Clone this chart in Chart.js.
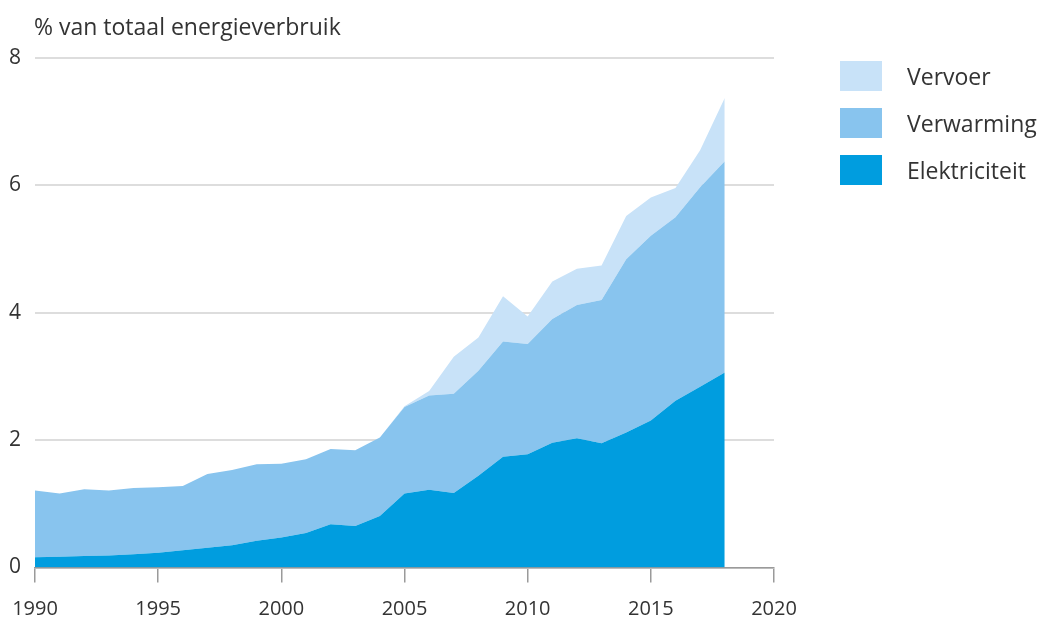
<!DOCTYPE html>
<html><head><meta charset="utf-8">
<script src="https://cdn.jsdelivr.net/npm/chart.js@4"></script>
<style>
  html,body{margin:0;padding:0;background:#fff;}
  #wrap{position:relative;width:1043px;height:620px;font-family:"Open Sans",sans-serif;color:#333;}
  #c{position:absolute;left:0;top:0;}
  #title{position:absolute;left:34px;top:10px;font-size:23px;line-height:32px;white-space:nowrap;}
  .lg{position:absolute;left:840px;height:30px;display:flex;align-items:center;font-size:23px;white-space:nowrap;}
  .lg span.b{display:inline-block;width:42px;height:30px;margin-right:25px;}
</style>
</head>
<body>
<div id="wrap">
  <canvas id="c" width="1043" height="620"></canvas>
  <div id="title">% van totaal energieverbruik</div>
  <div id="legend"></div>
</div>
<script>
const years = [1990,1991,1992,1993,1994,1995,1996,1997,1998,1999,2000,2001,2002,2003,2004,2005,2006,2007,2008,2009,2010,2011,2012,2013,2014,2015,2016,2017,2018];
const elektriciteit = [0.16,0.17,0.18,0.19,0.21,0.23,0.27,0.31,0.35,0.42,0.47,0.54,0.68,0.65,0.81,1.16,1.22,1.17,1.44,1.74,1.78,1.96,2.03,1.95,2.12,2.31,2.62,2.84,3.06];
const verwarming = [1.05,0.99,1.05,1.02,1.04,1.03,1.01,1.16,1.18,1.20,1.16,1.16,1.18,1.19,1.23,1.36,1.48,1.56,1.65,1.81,1.73,1.94,2.09,2.25,2.72,2.90,2.88,3.13,3.32];
const vervoer = [0,0,0,0,0,0,0,0,0,0,0,0,0,0,0,0.01,0.07,0.58,0.52,0.71,0.43,0.59,0.57,0.54,0.68,0.60,0.46,0.58,0.99];
const xTickLabels = ['1990','1995','2000','2005','2010','2015','2020'];
const yTickLabels = ['0','2','4','6','8'];

const seriesNames = ['Elektriciteit','Verwarming','Vervoer'];
const seriesColors = ['#009ddf','#88c4ee','#c8e2f8'];
const seriesValues = [elektriciteit, verwarming, vervoer];

// HTML legend (top-down: Vervoer, Verwarming, Elektriciteit)
const legendTops = [61,108,155];
const lg = document.getElementById('legend');
[2,1,0].forEach((k,i)=>{
  const d=document.createElement('div');d.className='lg';d.style.top=legendTops[i]+'px';
  const b=document.createElement('span');b.className='b';b.style.background=seriesColors[k];
  d.appendChild(b);d.appendChild(document.createTextNode(seriesNames[k]));lg.appendChild(d);
});

const datasets = seriesValues.map((vals,k)=>({
  label: seriesNames[k],
  data: years.map((yr,i)=>({x:yr,y:vals[i]})),
  backgroundColor: seriesColors[k],
  borderWidth: 0,
  borderColor: seriesColors[k],
  pointRadius: 0,
  tension: 0,
  fill: k===0 ? 'origin' : '-1'
}));

new Chart(document.getElementById('c'), {
  type: 'line',
  data: { datasets },
  options: {
    responsive: false,
    animation: false,
    devicePixelRatio: 1,
    layout: { padding: { left: 0, right: 269, top: 58, bottom: 0 } },
    plugins: { legend: { display: false }, tooltip: { enabled: false }, title: { display: false } },
    scales: {
      x: {
        type: 'linear', min: 1990, max: 2020,
        afterBuildTicks: s => { s.ticks = xTickLabels.map(t=>({value:Number(t)})); },
        afterFit: s => { s.height = 52.5; s.paddingLeft = 0; s.paddingRight = 0; },
        ticks: { callback: v => String(v), font: { family: 'Open Sans', size: 20 }, color: '#333', padding: 15, maxRotation: 0, autoSkip: false },
        grid: { drawOnChartArea: false, drawTicks: true, tickLength: 15, color: '#9a9a9a', lineWidth: 1.5 },
        border: { display: true, color: '#9a9a9a', width: 1.5 }
      },
      y: {
        stacked: true, min: 0, max: 8,
        afterBuildTicks: s => { s.ticks = yTickLabels.map(t=>({value:Number(t)})); },
        afterFit: s => { s.width = 35; },
        ticks: { callback: v => String(v), font: { family: 'Open Sans', size: 21 }, color: '#333', padding: 14 },
        grid: { color: '#dddddd', lineWidth: 2, drawTicks: false },
        border: { display: false }
      }
    }
  }
});
</script>
</body></html>
